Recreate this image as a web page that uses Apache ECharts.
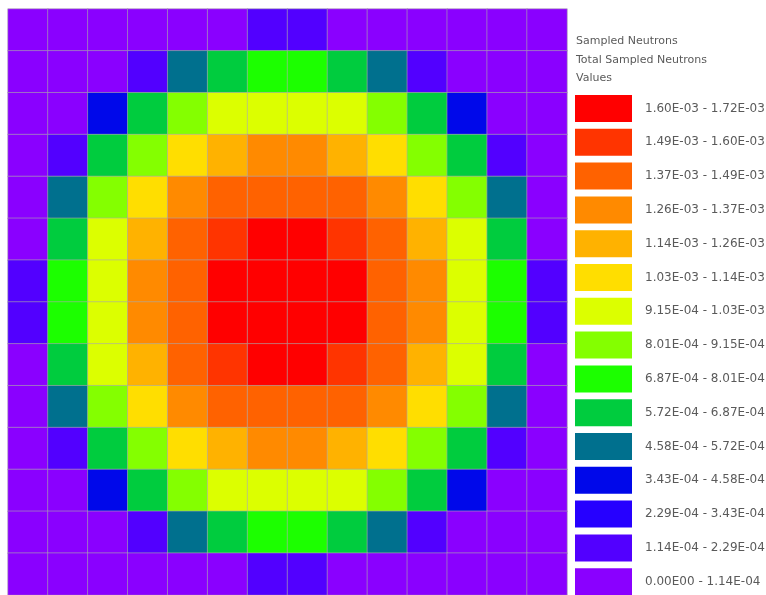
<!DOCTYPE html>
<html>
<head>
<meta charset="utf-8">
<script src="https://cdn.jsdelivr.net/npm/echarts@6/dist/echarts.min.js"></script>
<style>
  html, body { margin: 0; padding: 0; background: #fff; }
  #chart { width: 766px; height: 595px; }
</style>
</head>
<body>
<div id="chart"></div>
<script>
// columns / rows of the tally mesh
var cols = ['1', '2', '3', '4', '5', '6', '7', '8', '9', '10', '11', '12', '13', '14'];
var rows = ['1', '2', '3', '4', '5', '6', '7', '8', '9', '10', '11', '12', '13', '14'];

var row01 = [6e-5, 6e-5, 6e-5, 6e-5, 6e-5, 6e-5, 1.7e-4, 1.7e-4, 6e-5, 6e-5, 6e-5, 6e-5, 6e-5, 6e-5];
var row02 = [6e-5, 6e-5, 6e-5, 1.7e-4, 5.1e-4, 6.3e-4, 7.4e-4, 7.4e-4, 6.3e-4, 5.1e-4, 1.7e-4, 6e-5, 6e-5, 6e-5];
var row03 = [6e-5, 6e-5, 4.0e-4, 6.3e-4, 8.6e-4, 9.7e-4, 9.7e-4, 9.7e-4, 9.7e-4, 8.6e-4, 6.3e-4, 4.0e-4, 6e-5, 6e-5];
var row04 = [6e-5, 1.7e-4, 6.3e-4, 8.6e-4, 1.08e-3, 1.2e-3, 1.31e-3, 1.31e-3, 1.2e-3, 1.08e-3, 8.6e-4, 6.3e-4, 1.7e-4, 6e-5];
var row05 = [6e-5, 5.1e-4, 8.6e-4, 1.08e-3, 1.31e-3, 1.43e-3, 1.43e-3, 1.43e-3, 1.43e-3, 1.31e-3, 1.08e-3, 8.6e-4, 5.1e-4, 6e-5];
var row06 = [6e-5, 6.3e-4, 9.7e-4, 1.2e-3, 1.43e-3, 1.54e-3, 1.66e-3, 1.66e-3, 1.54e-3, 1.43e-3, 1.2e-3, 9.7e-4, 6.3e-4, 6e-5];
var row07 = [1.7e-4, 7.4e-4, 9.7e-4, 1.31e-3, 1.43e-3, 1.66e-3, 1.66e-3, 1.66e-3, 1.66e-3, 1.43e-3, 1.31e-3, 9.7e-4, 7.4e-4, 1.7e-4];
var row08 = [1.7e-4, 7.4e-4, 9.7e-4, 1.31e-3, 1.43e-3, 1.66e-3, 1.66e-3, 1.66e-3, 1.66e-3, 1.43e-3, 1.31e-3, 9.7e-4, 7.4e-4, 1.7e-4];
var row09 = [6e-5, 6.3e-4, 9.7e-4, 1.2e-3, 1.43e-3, 1.54e-3, 1.66e-3, 1.66e-3, 1.54e-3, 1.43e-3, 1.2e-3, 9.7e-4, 6.3e-4, 6e-5];
var row10 = [6e-5, 5.1e-4, 8.6e-4, 1.08e-3, 1.31e-3, 1.43e-3, 1.43e-3, 1.43e-3, 1.43e-3, 1.31e-3, 1.08e-3, 8.6e-4, 5.1e-4, 6e-5];
var row11 = [6e-5, 1.7e-4, 6.3e-4, 8.6e-4, 1.08e-3, 1.2e-3, 1.31e-3, 1.31e-3, 1.2e-3, 1.08e-3, 8.6e-4, 6.3e-4, 1.7e-4, 6e-5];
var row12 = [6e-5, 6e-5, 4.0e-4, 6.3e-4, 8.6e-4, 9.7e-4, 9.7e-4, 9.7e-4, 9.7e-4, 8.6e-4, 6.3e-4, 4.0e-4, 6e-5, 6e-5];
var row13 = [6e-5, 6e-5, 6e-5, 1.7e-4, 5.1e-4, 6.3e-4, 7.4e-4, 7.4e-4, 6.3e-4, 5.1e-4, 1.7e-4, 6e-5, 6e-5, 6e-5];
var row14 = [6e-5, 6e-5, 6e-5, 6e-5, 6e-5, 6e-5, 1.7e-4, 1.7e-4, 6e-5, 6e-5, 6e-5, 6e-5, 6e-5, 6e-5];
var gridValues = [row01, row02, row03, row04, row05, row06, row07, row08, row09, row10, row11, row12, row13, row14];

// class breaks of the legend, low to high
var breaks = [0, 1.14e-4, 2.29e-4, 3.43e-4, 4.58e-4, 5.72e-4, 6.87e-4, 8.01e-4, 9.15e-4,
              1.03e-3, 1.14e-3, 1.26e-3, 1.37e-3, 1.49e-3, 1.60e-3, 1.72e-3];
var breakLabels = ['0.00E00', '1.14E-04', '2.29E-04', '3.43E-04', '4.58E-04', '5.72E-04', '6.87E-04', '8.01E-04',
                   '9.15E-04', '1.03E-03', '1.14E-03', '1.26E-03', '1.37E-03', '1.49E-03', '1.60E-03', '1.72E-03'];
var classColors = ['#8a00ff', '#5200ff', '#2600ff', '#0008ea', '#00708e', '#00cc3e', '#1cff00', '#84ff00',
                   '#dcff00', '#ffde00', '#ffb200', '#ff8a00', '#ff6200', '#ff3400', '#ff0000'];

var data = [];
gridValues.forEach(function (r, y) {
    r.forEach(function (v, x) {
        data.push([x, y, v]);
    });
});

var pieces = [];
for (var i = 0; i < classColors.length; i++) {
    var p = { gte: breaks[i], lt: breaks[i + 1], color: classColors[i],
              label: breakLabels[i] + ' - ' + breakLabels[i + 1] };
    if (i === classColors.length - 1) { delete p.lt; p.lte = breaks[i + 1]; }
    pieces.push(p);
}

var myChart = echarts.init(document.getElementById('chart'));

var option = {
    backgroundColor: '#fff',
    animation: false,
    title: {
        text: 'Sampled Neutrons\nTotal Sampled Neutrons\nValues',
        left: 571,
        top: 27,
        textStyle: {
            fontFamily: 'DejaVu Sans',
            fontSize: 11,
            fontWeight: 'normal',
            color: '#5a5a5a',
            lineHeight: 18.5
        }
    },
    grid: { left: 8, top: 9, width: 559, height: 588 },
    xAxis: {
        type: 'category',
        data: cols,
        show: false
    },
    yAxis: {
        type: 'category',
        data: rows,
        inverse: true,
        show: false
    },
    visualMap: {
        type: 'piecewise',
        pieces: pieces,
        orient: 'vertical',
        align: 'left',
        left: 560,
        top: 80,
        itemWidth: 57,
        itemHeight: 27,
        itemGap: 6.8,
        itemSymbol: 'rect',
        textGap: 13,
        selectedMode: false,
        textStyle: {
            fontFamily: 'DejaVu Sans',
            fontSize: 12,
            color: '#5a5a5a'
        }
    },
    series: [{
        type: 'heatmap',
        data: data,
        itemStyle: {
            borderColor: 'rgba(170,170,170,0.6)',
            borderWidth: 1
        }
    }]
};

myChart.setOption(option);
</script>
</body>
</html>
